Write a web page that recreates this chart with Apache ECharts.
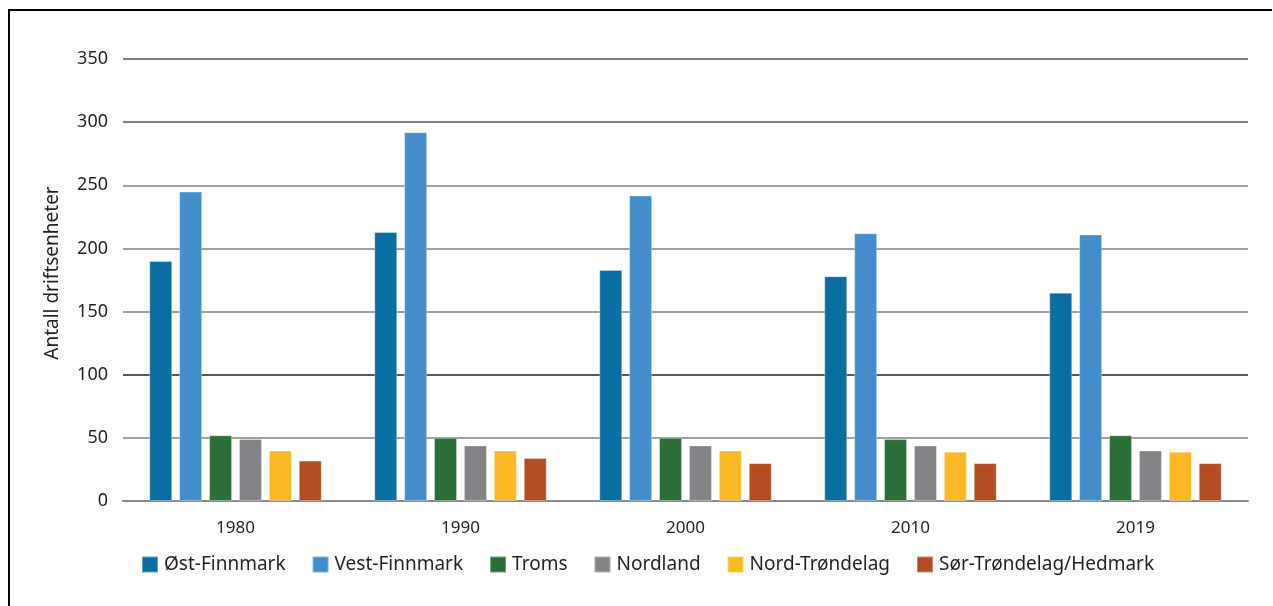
<!DOCTYPE html>
<html>
<head>
<meta charset="utf-8">
<script src="https://cdn.jsdelivr.net/npm/echarts@6/dist/echarts.min.js"></script>
<style>
html,body{margin:0;padding:0;background:#fff;}
#frame{position:absolute;left:8px;top:9px;width:1262px;height:620px;border-top:2px solid #000;border-left:2px solid #000;}
#chart{position:absolute;left:0;top:0;width:1273px;height:606px;}
</style>
</head>
<body>
<div id="frame"></div>
<div id="chart"></div>
<script>
const years = ['1980', '1990', '2000', '2010', '2019'];
const seriesNames = ['Øst-Finnmark', 'Vest-Finnmark', 'Troms', 'Nordland', 'Nord-Trøndelag', 'Sør-Trøndelag/Hedmark'];
const ostFinnmark = [190, 213, 183, 178, 165];
const vestFinnmark = [245, 292, 242, 212, 211];
const troms = [52, 50, 50, 49, 52];
const nordland = [49, 44, 44, 44, 40];
const nordTrondelag = [40, 40, 40, 39, 39];
const sorTrondelagHedmark = [32, 34, 30, 30, 30];
const yTicks = [0, 50, 100, 150, 200, 250, 300, 350];
const yTitle = 'Antall driftsenheter';

const colors = ['#0a6ea3', '#438dca', '#2a6f37', '#838487', '#fbb825', '#b34e23'];
const values = [ostFinnmark, vestFinnmark, troms, nordland, nordTrondelag, sorTrondelagHedmark];
const fontFamily = '"Noto Sans", sans-serif';
const textColor = '#231f20';

const chart = echarts.init(document.getElementById('chart'), null, {renderer: 'canvas'});
chart.setOption({
  animation: false,
  color: colors,
  textStyle: {fontFamily: fontFamily, color: textColor},
  grid: {left: 123, right: 25, top: 59, bottom: 105, containLabel: false},
  legend: {
    left: 141, top: 555, padding: 0,
    itemWidth: 16, itemHeight: 16, itemGap: 26,
    icon: 'rect',
    textStyle: {fontFamily: fontFamily, fontSize: 19, color: textColor, padding: [0, 0, 0, 1]},
    data: seriesNames
  },
  xAxis: {
    type: 'category',
    data: years,
    axisLine: {show: true, lineStyle: {color: '#8a8a8a', width: 2}},
    axisTick: {show: false},
    axisLabel: {fontFamily: fontFamily, fontSize: 17, color: textColor, margin: 19}
  },
  yAxis: {
    type: 'value',
    min: yTicks[0], max: yTicks[yTicks.length - 1], interval: 50,
    name: yTitle,
    nameLocation: 'middle',
    nameGap: 61,
    nameTextStyle: {fontFamily: fontFamily, fontSize: 19, color: textColor, padding: [0, 0, 0, 14]},
    axisLine: {show: false},
    axisTick: {show: false},
    axisLabel: {fontFamily: fontFamily, fontSize: 18, color: textColor, margin: 15},
    splitLine: {show: true, lineStyle: {color: ['#808080', '#808080', '#222222', '#808080', '#808080', '#808080', '#555555', '#555555'], width: 1.5}}
  },
  series: seriesNames.map((n, i) => ({
    name: n,
    type: 'bar',
    data: values[i],
    barWidth: 23,
    barGap: '30%',
    itemStyle: {color: colors[i], borderColor: 'rgba(255,255,255,0.35)', borderWidth: 1}
  }))
});
</script>
</body>
</html>
